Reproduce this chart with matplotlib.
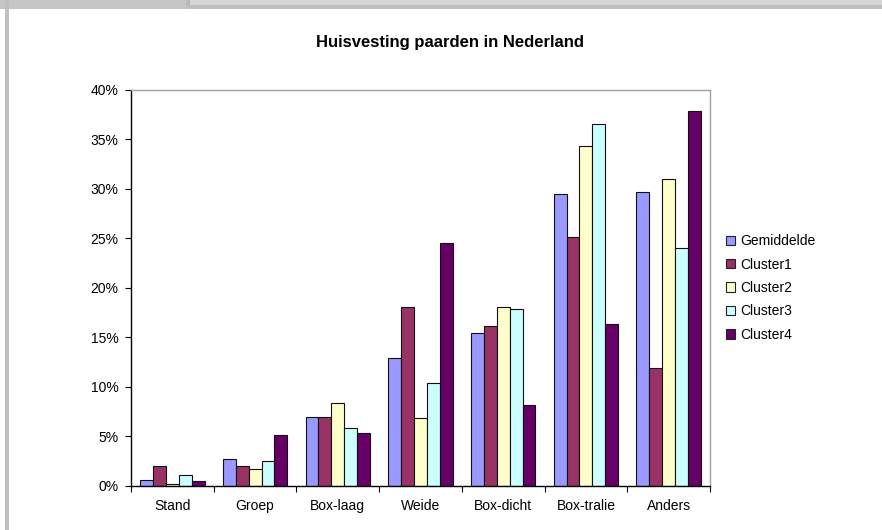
import matplotlib
matplotlib.use("Agg")
import matplotlib.pyplot as plt
from matplotlib.patches import Rectangle, Patch
from matplotlib.ticker import FixedLocator, PercentFormatter
import numpy as np

plt.rcParams['font.family'] = ['Liberation Sans', 'DejaVu Sans']

categories = ["Stand", "Groep", "Box-laag", "Weide", "Box-dicht", "Box-tralie", "Anders"]
series_names = ["Gemiddelde", "Cluster1", "Cluster2", "Cluster3", "Cluster4"]
gemiddelde = [0.6, 2.7, 6.9, 12.9, 15.4, 29.5, 29.7]
cluster1 = [2.0, 2.0, 6.9, 18.1, 16.1, 25.1, 11.9]
cluster2 = [0.2, 1.7, 8.3, 6.8, 18.1, 34.3, 31.0]
cluster3 = [1.1, 2.5, 5.8, 10.4, 17.9, 36.6, 24.0]
cluster4 = [0.45, 5.1, 5.3, 24.5, 8.15, 16.3, 37.9]
series_values = [gemiddelde, cluster1, cluster2, cluster3, cluster4]
colors = ["#9999FF", "#993366", "#FFFFCC", "#CCFFFF", "#660066"]
title = "Huisvesting paarden in Nederland"

W, H = 882, 530
fig = plt.figure(figsize=(W / 100, H / 100), dpi=100)
fig.patch.set_facecolor("white")

# screenshot frame pieces
def px_rect(x0, y0, x1, y1, color):
    fig.patches.append(Rectangle((x0 / W, 1 - y1 / H), (x1 - x0) / W, (y1 - y0) / H,
                                 transform=fig.transFigure, facecolor=color,
                                 edgecolor="none", zorder=0))

px_rect(0, 0, W, 5, "#d6d6d6")
px_rect(0, 5, W, 9, "#bebebe")
px_rect(0, 0, 186, 9, "#c6c6c6")
px_rect(186, 0, 190, 5, "#b8b8b8")
px_rect(5, 0, 9, H, "#c0c0c0")

ax = fig.add_axes([131 / W, 1 - 485.5 / H, (710 - 131) / W, (485.5 - 90) / H])
n = len(series_names)
group = 0.78
bw = group / n
x = np.arange(len(categories))
for i, (name, vals, c) in enumerate(zip(series_names, series_values, colors)):
    offs = -group / 2 + bw * (i + 0.5)
    ax.bar(x + offs, vals, width=bw, color=c, edgecolor="#111111", linewidth=0.8,
           label=name, zorder=2)

ax.set_xlim(-0.5, len(categories) - 0.5)
ax.set_ylim(0, 40)
ax.set_yticks(np.arange(0, 41, 5))
ax.yaxis.set_major_formatter(PercentFormatter(decimals=0))
ax.set_xticks(x)
ax.set_xticklabels(categories)
ax.xaxis.set_minor_locator(FixedLocator(np.arange(-0.5, len(categories), 1.0)))
ax.tick_params(axis="x", which="major", length=0, pad=10, labelsize=10, colors="black")
ax.tick_params(axis="x", which="minor", length=4, width=0.8, direction="out", color="black")
ax.tick_params(axis="y", which="major", length=4, width=0.8, direction="out", pad=5,
               labelsize=10, colors="black")
for s in ["top", "right"]:
    ax.spines[s].set_color("#a0a0a0")
    ax.spines[s].set_linewidth(1.0)
for s in ["left", "bottom"]:
    ax.spines[s].set_color("black")
    ax.spines[s].set_linewidth(1.0)

fig.text(450 / W, 1 - 42 / H, title, ha="center", va="center", fontsize=12,
         fontweight="bold", color="black")

handles = [Patch(facecolor=c, edgecolor="#222222", linewidth=0.8) for c in colors]
fig.legend(handles, series_names, loc="center left",
           bbox_to_anchor=(726 / W, 1 - 288 / H), frameon=False, fontsize=10,
           handlelength=0.65, handleheight=0.65, handletextpad=0.35,
           labelspacing=0.68, borderpad=0, borderaxespad=0)

fig.savefig("out.png", dpi=100)
